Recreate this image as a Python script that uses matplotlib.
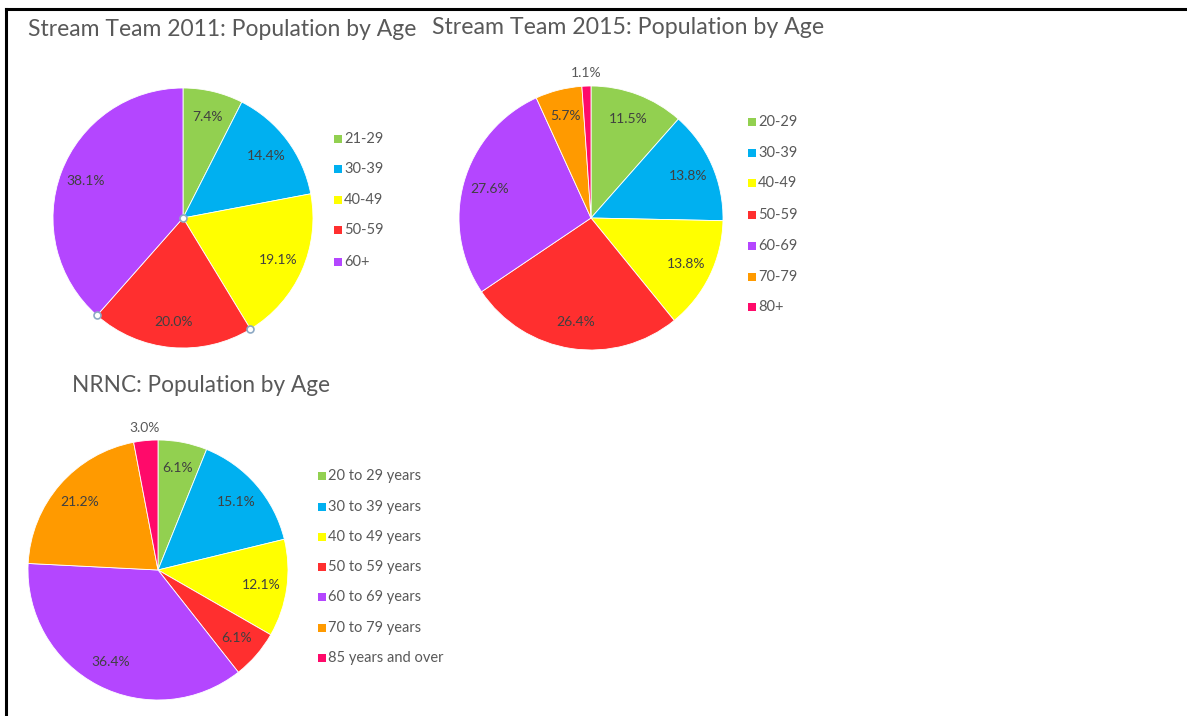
import matplotlib
matplotlib.use("Agg")
import matplotlib.pyplot as plt
from matplotlib.patches import Rectangle
from matplotlib.lines import Line2D
import numpy as np

# ---------------- data ----------------
titles = ["Stream Team 2011: Population by Age",
          "Stream Team 2015: Population by Age",
          "NRNC: Population by Age"]

cats_2011 = ["21-29", "30-39", "40-49", "50-59", "60+"]
vals_2011 = [7.4, 14.4, 19.1, 20.0, 38.1]

cats_2015 = ["20-29", "30-39", "40-49", "50-59", "60-69", "70-79", "80+"]
vals_2015 = [11.5, 13.8, 13.8, 26.4, 27.6, 5.7, 1.1]

cats_nrnc = ["20 to 29 years", "30 to 39 years", "40 to 49 years", "50 to 59 years",
             "60 to 69 years", "70 to 79 years", "85 years and over"]
vals_nrnc = [6.1, 15.1, 12.1, 6.1, 36.4, 21.2, 3.0]

colors_5 = ["#92D050", "#00B0F0", "#FFFF00", "#FF2F2F", "#B446FF"]
colors_7 = ["#92D050", "#00B0F0", "#FFFF00", "#FF2F2F", "#B446FF", "#FF9A00", "#FF0A6A"]

# ---------------- layout ----------------
W, H = 1187, 716
fig = plt.figure(figsize=(W / 100, H / 100), dpi=100)
fig.patch.set_facecolor("white")
FONT = "Lato"
GRAY = "#595959"
DARK = "#404040"


def fx(x):
    return x / W


def fy(y):
    return 1 - y / H


def draw_pie(cx, cy, R, vals, colors, selected=None):
    pad = 1.2
    ax = fig.add_axes([fx(cx - R * pad), fy(cy + R * pad), 2 * R * pad / W, 2 * R * pad / H])
    wedges, _ = ax.pie(vals, colors=colors, startangle=90, counterclock=False, radius=1,
                       wedgeprops=dict(edgecolor="white", linewidth=0.6))
    ax.set_xlim(-pad, pad)
    ax.set_ylim(-pad, pad)
    ax.set_aspect("equal")
    ax.axis("off")
    tot = sum(vals)
    for w, v in zip(wedges, vals):
        mid = np.deg2rad((w.theta1 + w.theta2) / 2)
        if v / tot < 0.04:
            r, col = 1.1, GRAY
        else:
            r, col = 0.8, DARK
        ax.text(r * np.cos(mid), r * np.sin(mid), f"{v:.1f}%", ha="center", va="center",
                fontsize=10, color=col, family=FONT)
    if selected is not None:
        w = wedges[selected]
        pts = [(0, 0)]
        for t in (w.theta1, w.theta2):
            pts.append((np.cos(np.deg2rad(t)), np.sin(np.deg2rad(t))))
        xs, ys = zip(*pts)
        ax.plot(xs, ys, "o", ms=5, mfc="white", mec="#8DA9C4", mew=1.2, clip_on=False)
    return ax


def draw_legend(mx, ys, cats, colors):
    for y, c, col in zip(ys, cats, colors):
        fig.add_artist(Rectangle((fx(mx - 4), fy(y + 4)), 8 / W, 8 / H,
                                 transform=fig.transFigure, facecolor=col, edgecolor="none"))
        fig.text(fx(mx + 6), fy(y), c, ha="left", va="center", fontsize=10.5,
                 color=GRAY, family=FONT)


# border (top and left)
fig.add_artist(Line2D([fx(6), fx(W)], [fy(9), fy(9)], transform=fig.transFigure,
                      color="black", lw=2.2))
fig.add_artist(Line2D([fx(6), fx(6)], [fy(9), fy(H)], transform=fig.transFigure,
                      color="black", lw=2.2))

# titles
fig.text(fx(28), fy(30), titles[0], ha="left", va="center", fontsize=16.5, color=GRAY, family=FONT)
fig.text(fx(432), fy(28), titles[1], ha="left", va="center", fontsize=16.7, color=GRAY, family=FONT)
fig.text(fx(72), fy(386), titles[2], ha="left", va="center", fontsize=16.3, color=GRAY, family=FONT)

# pies
draw_pie(183, 218, 130, vals_2011, colors_5, selected=3)
draw_pie(591, 218, 132, vals_2015, colors_7)
draw_pie(158, 570, 130, vals_nrnc, colors_7)

# legends
draw_legend(338, [139, 169, 200, 230, 262], cats_2011, colors_5)
draw_legend(752, [122, 153, 183, 215, 246, 277, 307], cats_2015, colors_7)
draw_legend(322, [476, 507, 537, 567, 597, 628, 658], cats_nrnc, colors_7)

fig.savefig("out.png", dpi=100, facecolor="white")
